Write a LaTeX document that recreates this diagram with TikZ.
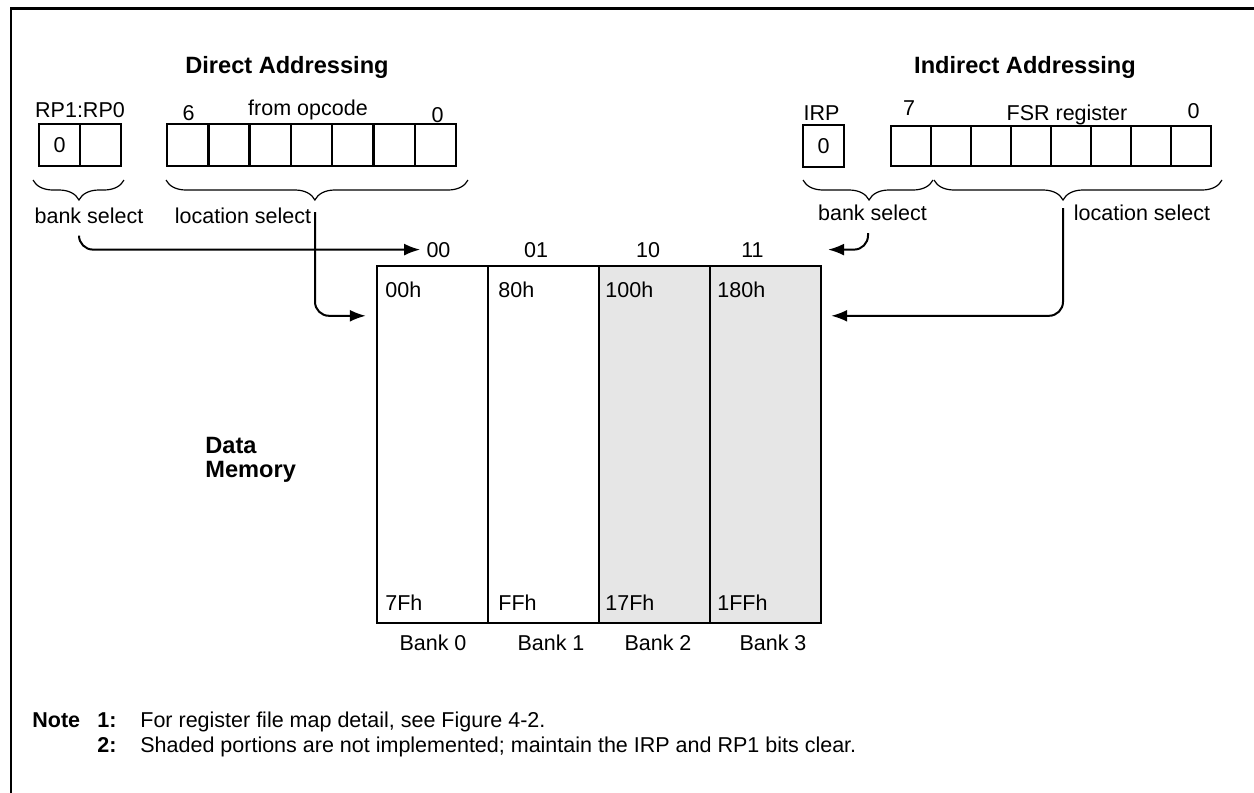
\documentclass[tikz,border=0pt]{standalone}
\usepackage{fontspec}
\setmainfont{Liberation Sans}
\usetikzlibrary{positioning}
\usetikzlibrary{arrows.meta,decorations.pathreplacing}
\definecolor{unimpl}{HTML}{E6E6E6}

\begin{document}
\begin{tikzpicture}[x=0.5pt, y=-0.5pt,
    txt/.style = {font=\fontsize{10.75}{13}\selectfont, inner sep=0pt, anchor=base},
    hdr/.style = {font=\fontsize{11.8}{14}\selectfont\bfseries, inner sep=0pt, anchor=base west},
    bit/.style = {draw, line width=1.2pt, minimum height=21pt, inner sep=0pt, font=\fontsize{10.75}{13}\selectfont},
    bank/.style = {draw, line width=1.2pt, minimum width=55.5pt, minimum height=178.5pt, inner sep=0pt},
    brc/.style = {decorate, decoration={brace, mirror, amplitude=10pt}, line width=0.6pt},
    sel/.style = {line width=1pt, rounded corners=7pt, -{Latex[length=8pt,width=6pt]}}]
    \useasboundingbox (0,0) rectangle (1254,793);
    \draw[line width=1.3pt] (11,793) -- (11,8.5) -- (1254,8.5);

    % direct addressing
    \node[hdr, anchor=base] (dtitle) at (287,73) {Direct Addressing};
    \node[txt] (rplbl) at (80,117) {RP1:RP0};
    \node[bit, minimum width=20.5pt] (rp1) at (59.5,145) {0};
    \node[bit, minimum width=20.5pt] (rp0) at (100.5,145) {};
    \foreach \i in {0,...,6}
        \node[bit, minimum width=20.65pt] (op\i) at (187.65+41.3*\i,145) {};
    \node[txt] (opsix) at (188.5,120) {6};
    \node[txt] (oplbl) at (308,115) {from opcode};
    \node[txt] (opzero) at (437.5,122) {0};
    \draw[brc, decoration={aspect=0.505}] (33,180) -- (124,180);
    \draw[brc, decoration={aspect=0.493}] (166,180) -- (468,180);
    \node[txt] (dbank) at (89,223) {bank select};
    \node[txt] (dloc) at (243,223) {location select};

    % indirect addressing
    \node[hdr, anchor=base] (ititle) at (1025,73) {Indirect Addressing};
    \node[txt] (irplbl) at (821.5,120) {IRP};
    \node[bit, minimum width=20.5pt] (irp) at (823.5,146) {0};
    \foreach \i in {0,...,7}
        \node[bit, minimum width=20pt, minimum height=20pt] (fsr\i) at (911+40*\i,146) {};
    \node[txt] (fsrseven) at (909,115) {7};
    \node[txt] (fsrlbl) at (1067,120) {FSR register};
    \node[txt] (fsrzero) at (1193.5,118) {0};
    \draw[brc, decoration={aspect=0.508}] (803,180) -- (933,180);
    \draw[brc, decoration={aspect=0.448}] (934,180) -- (1222,180);
    \node[txt] (ibank) at (872.5,220) {bank select};
    \node[txt] (iloc) at (1142,220) {location select};

    % data memory banks
    \foreach \i/\f in {0/white,1/white,2/unimpl,3/unimpl}
        \node[bank, fill=\f] (b\i) at (432.5+111*\i,444.5) {};
    \foreach \i/\x/\a/\z in {0/385/00h/7Fh, 1/498/80h/FFh, 2/605/100h/17Fh, 3/717/180h/1FFh} {
        \node[txt, anchor=base west] (top\i) at (\x,297) {\a};
        \node[txt, anchor=base west] (bot\i) at (\x,610) {\z};
    }
    \foreach \i/\x in {0/433,1/551,2/658,3/773}
        \node[txt] (bn\i) at (\x,650) {Bank \i};
    \foreach \c/\x in {00/438.5,01/536,10/648,11/752.5}
        \node[txt] (c\c) at (\x,257) {\c};
    \node[hdr] (data) at (205,453) {Data};
    \node[hdr] (memory) at (205,477) {Memory};

    % select paths
    \coordinate (dbfrom) at (79,236);
    \coordinate (dlfrom) at (315,212);
    \coordinate (ibfrom) at (868,233);
    \coordinate (ilfrom) at (1063,208);
    \draw[sel] (dbfrom) |- ([xshift=-3pt]c00.west);
    \draw[sel] (dlfrom) |- ([xshift=-5pt,yshift=-25.5pt]b0.north west);
    \draw[sel] (ibfrom) |- ([xshift=32pt]c11.east);
    \draw[sel] (ilfrom) |- ([xshift=4.5pt,yshift=-25.5pt]b3.north east);

    % notes
    \node[txt, anchor=base west, font=\fontsize{10.75}{13}\selectfont\bfseries] (note) at (32,727) {Note};
    \node[txt, anchor=base west, font=\fontsize{10.75}{13}\selectfont\bfseries] (n1) at (97,727) {1:};
    \node[txt, anchor=base west] (n1txt) at (140,727) {For register file map detail, see Figure 4-2.};
    \node[txt, anchor=base west, font=\fontsize{10.75}{13}\selectfont\bfseries] (n2) at (97,752) {2:};
    \node[txt, anchor=base west] (n2txt) at (140,752) {Shaded portions are not implemented; maintain the IRP and RP1 bits clear.};
\end{tikzpicture}
\end{document}
